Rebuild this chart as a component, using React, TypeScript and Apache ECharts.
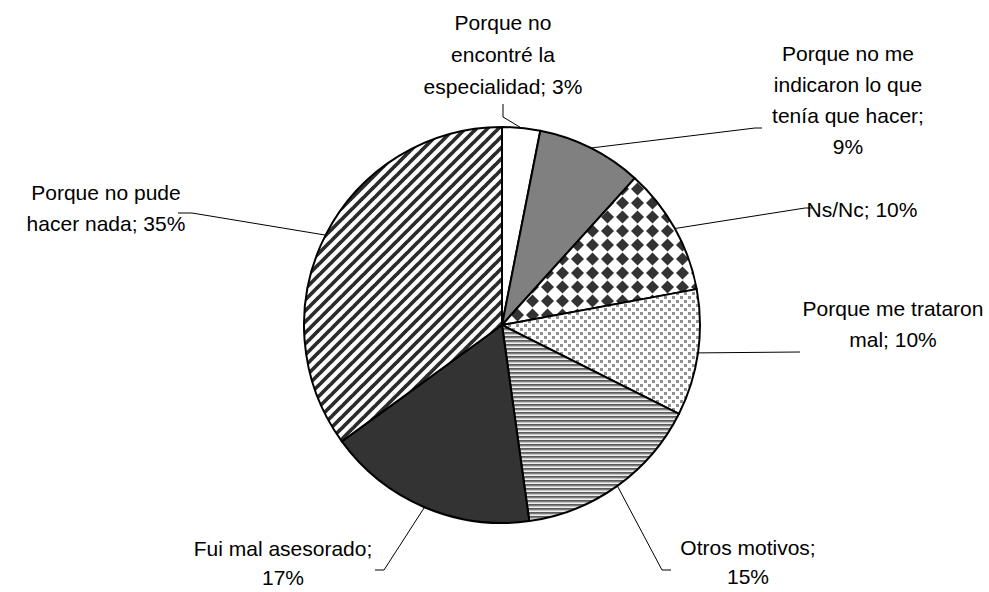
import React, { useEffect, useRef } from "react";
import * as echarts from "echarts";

// ---- data ----
const categories = [
  "Porque no\nencontré la\nespecialidad",
  "Porque no me\nindicaron lo que\ntenía que hacer",
  "Ns/Nc",
  "Porque me trataron\nmal",
  "Otros motivos",
  "Fui mal asesorado",
  "Porque no pude\nhacer nada",
];
const separators = ["; ", ";\n", "; ", "; ", ";\n", ";\n", "; "];
const values = [3.1, 8.6, 10.4, 10.3, 15.4, 17.2, 35.0];

// ---- label layout (text positions and leader bends) ----
const labelCenters: number[][] = [
  [503, 54],
  [848, 100],
  [862, 209],
  [893, 324],
  [748, 562],
  [283, 563],
  [106, 208],
];
const labelLineHeights = [32, 31, 31, 31, 29, 29, 31];
const leaderBends: number[][][] = [
  [[503, 117], [503, 104]],
  [[755, 128], [762, 128]],
  [[805, 208], [812, 208]],
  [[800, 352]],
  [[662, 570], [671, 570]],
  [[384, 570], [375, 570]],
  [[192, 213], [178, 213]],
];

function tile(w: number, h: number, draw: (ctx: CanvasRenderingContext2D) => void) {
  const c = document.createElement("canvas");
  c.width = w;
  c.height = h;
  const ctx = c.getContext("2d") as CanvasRenderingContext2D;
  draw(ctx);
  return { image: c, repeat: "repeat" } as any;
}

function makeFills() {
  const diamonds = tile(15, 14, (ctx) => {
    ctx.fillStyle = "#ffffff";
    ctx.fillRect(0, 0, 15, 14);
    ctx.fillStyle = "#333333";
    ctx.beginPath();
    ctx.moveTo(7.5, 0.6);
    ctx.lineTo(14.0, 7);
    ctx.lineTo(7.5, 13.4);
    ctx.lineTo(1.0, 7);
    ctx.closePath();
    ctx.fill();
  });
  const dots = tile(8, 8, (ctx) => {
    ctx.fillStyle = "#ffffff";
    ctx.fillRect(0, 0, 8, 8);
    ctx.fillStyle = "#909090";
    ctx.fillRect(0, 0, 3, 3);
    ctx.fillRect(4, 4, 3, 3);
  });
  const hstripes = tile(4, 4, (ctx) => {
    const rows = ["#5c5c5c", "#7c7c7c", "#c4c4c4", "#efefef"];
    rows.forEach((c, i) => {
      ctx.fillStyle = c;
      ctx.fillRect(0, i, 4, 1);
    });
  });
  const diag = tile(11, 11, (ctx) => {
    ctx.fillStyle = "#ffffff";
    ctx.fillRect(0, 0, 11, 11);
    ctx.strokeStyle = "#2b2b2b";
    ctx.lineWidth = 3.7;
    [-11, 0, 11].forEach((o) => {
      ctx.beginPath();
      ctx.moveTo(o - 2, 13);
      ctx.lineTo(o + 13, -2);
      ctx.stroke();
    });
  });
  return ["#ffffff", "#808080", diamonds, dots, hstripes, "#333333", diag];
}

export default function App() {
  const ref = useRef<HTMLDivElement>(null);
  useEffect(() => {
    if (!ref.current) return;
    const chart = echarts.init(ref.current, null, { renderer: "svg" });
    const fills = makeFills();
    const data = categories.map((name, i) => ({
      name,
      value: values[i],
      itemStyle: { color: fills[i] },
      label: { lineHeight: labelLineHeights[i] },
    }));
    chart.setOption({
      animation: false,
      backgroundColor: "#ffffff",
      series: [
        {
          type: "pie",
          center: [502, 325],
          radius: [0, 198],
          startAngle: 90,
          clockwise: true,
          avoidLabelOverlap: false,
          emphasis: { disabled: true },
          itemStyle: { borderColor: "#000000", borderWidth: 2 },
          label: {
            show: true,
            position: "outside",
            color: "#000000",
            fontFamily: "'Liberation Sans', Arial, sans-serif",
            fontSize: 21,
            lineHeight: 31,
            align: "center",
            formatter: (p: any) =>
              p.name + separators[p.dataIndex] + Math.round(p.value) + "%",
          },
          labelLine: {
            show: true,
            lineStyle: { color: "#000000", width: 1 },
          },
          labelLayout: (params: any) => {
            const i = params.dataIndex;
            const pts = params.labelLinePoints;
            const start = pts && pts[0] ? pts[0] : labelCenters[i];
            return {
              x: labelCenters[i][0],
              y: labelCenters[i][1],
              align: "center",
              verticalAlign: "middle",
              labelLinePoints: [start, ...leaderBends[i]],
            };
          },
          data,
        },
      ],
    });
    return () => chart.dispose();
  }, []);
  return (
    <div
      ref={ref}
      style={{ position: "fixed", left: 0, top: 0, width: 989, height: 592, background: "#fff" }}
    />
  );
}
